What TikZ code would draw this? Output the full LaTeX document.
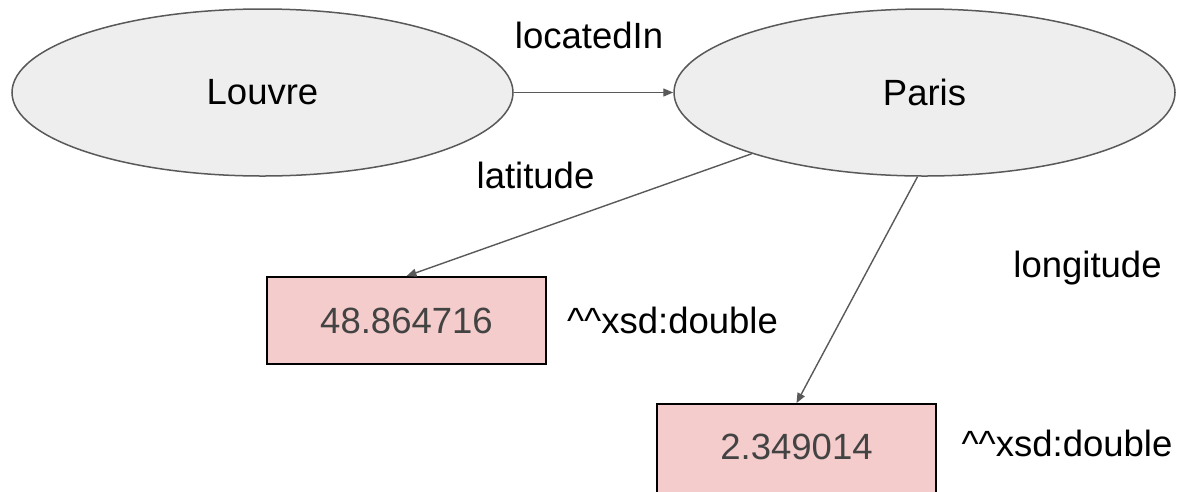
\documentclass[tikz,border=0pt]{standalone}
\usepackage{fontspec}
\setmainfont{Liberation Sans}
\usetikzlibrary{shapes.geometric,arrows.meta}
\definecolor{nodefill}{HTML}{EEEEEE}
\definecolor{edgegray}{HTML}{595959}
\definecolor{litfill}{HTML}{F4CCCC}
\definecolor{littext}{HTML}{434343}
\newcommand{\bigtext}{\fontsize{36.5}{44}\selectfont}
\begin{document}
\begin{tikzpicture}[x=1pt,y=-1pt,
  resource/.style={ellipse, draw=edgegray, fill=nodefill, line width=1.5pt,
    minimum width=501pt, minimum height=167pt, inner sep=0pt, font=\bigtext},
  literal/.style={rectangle, draw=black, fill=litfill, line width=1.8pt,
    minimum width=279pt, minimum height=87pt, inner sep=0pt, text=littext, font=\bigtext},
  edgetext/.style={anchor=base, inner sep=0pt, font=\bigtext},
  link/.style={draw=edgegray, line width=1.4pt, -{Triangle[length=10pt,width=8pt]}}]
\useasboundingbox (0,0) rectangle (1177,491);

% resources
\node[resource] (louvre) at (262.5,92.5) {Louvre};
\node[resource] (paris) at (924.5,92.5) {Paris};

% literal values (the lower one runs past the bottom edge)
\node[literal] (lat) at (406.5,320.5) {48.864716};
\node[literal, minimum height=92pt, text height=22pt, text depth=4pt] (lon) at (796.5,450) {2.349014};

% properties
\draw[link] (louvre) -- (paris);
\draw[link] (paris) -- (lat.north);
\draw[link] ([xshift=-7pt]paris.south) -- (lon.north);

% property names and datatypes
\node[edgetext] (locatedin) at (589,48) {locatedIn};
\node[edgetext] (latitude) at (535.5,188) {latitude};
\node[edgetext] (longitude) at (1087.5,277) {longitude};
\node[edgetext] (type1) at (672.5,333) {\textasciicircum\textasciicircum xsd:double};
\node[edgetext] (type2) at (1067,456) {\textasciicircum\textasciicircum xsd:double};
\end{tikzpicture}
\end{document}
